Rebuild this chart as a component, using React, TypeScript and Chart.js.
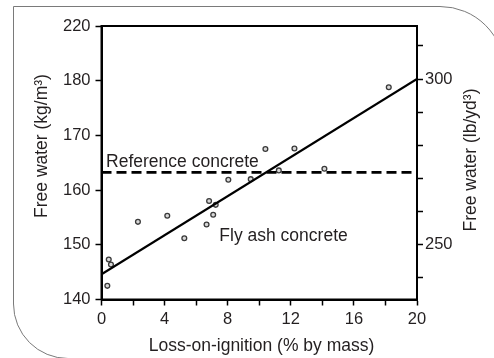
import React, { useEffect, useRef } from 'react';
import { Chart, registerables } from 'chart.js';

Chart.register(...registerables);

// Data
const lossOnIgnition = [0.37, 0.46, 0.6, 2.31, 4.17, 5.25, 6.66, 6.82, 7.08, 7.24, 8.04, 9.46, 10.39, 11.24, 12.23, 14.13, 18.21];
const freeWater = [142.5, 147.3, 146.4, 154.2, 155.3, 151.2, 153.7, 158.0, 155.5, 157.3, 161.9, 162.0, 167.5, 163.6, 167.6, 163.9, 178.8];
const fitX = [0, 20];
const fitY = [144.6, 180.3];
const referenceX = [0, 20];
const referenceY = [163.25, 163.25];

const xTicks = [0, 2, 4, 6, 8, 10, 12, 14, 16, 18, 20];
const xTickLabels = ['0', '', '4', '', '8', '', '12', '', '16', '', '20'];
const leftTicks = [140, 150, 160, 170, 180, 190];
const leftTickLabels = ['140', '150', '160', '170', '180', '220'];
const rightTicks = [240, 250, 260, 270, 280, 290, 300, 310];
const rightTickLabels = ['', '250', '', '', '', '', '300', ''];
const rightMin = 233.5;
const rightMax = 316.0;

const FONT = '"Liberation Sans", Arial, sans-serif';
const TEXT = '#231f20';

const overlayPlugin = {
  id: 'overlay',
  afterDraw(chart: any) {
    const { ctx, chartArea, scales } = chart;
    ctx.save();
    // plot frame
    ctx.strokeStyle = '#000';
    ctx.lineWidth = 2;
    ctx.strokeRect(chartArea.left, chartArea.top, chartArea.right - chartArea.left, chartArea.bottom - chartArea.top);

    ctx.fillStyle = TEXT;
    ctx.font = `17.5px ${FONT}`;
    ctx.textBaseline = 'middle';
    ctx.textAlign = 'center';
    // left title
    ctx.save();
    ctx.translate(42, 146);
    ctx.rotate(-Math.PI / 2);
    ctx.fillText('Free water (kg/m³)', 0, 0);
    ctx.restore();
    // right title
    ctx.save();
    ctx.translate(471.5, 160);
    ctx.rotate(-Math.PI / 2);
    ctx.fillText('Free water (lb/yd³)', 0, 0);
    ctx.restore();
    // bottom title
    ctx.fillText('Loss-on-ignition (% by mass)', 261.5, 346);

    // in-plot labels
    ctx.textAlign = 'left';
    ctx.textBaseline = 'alphabetic';
    const x = scales.x;
    const y = scales.y;
    ctx.fillText('Reference concrete', x.getPixelForValue(0.29), y.getPixelForValue(164.2));
    ctx.fillText('Fly ash concrete', x.getPixelForValue(7.47), y.getPixelForValue(150.7));
    ctx.restore();
  },
};

export default function App() {
  const ref = useRef<HTMLCanvasElement | null>(null);

  useEffect(() => {
    if (!ref.current) return;
    const tickFont = { family: FONT, size: 16.5 };
    const chart = new Chart(ref.current, {
      type: 'scatter',
      data: {
        datasets: [
          {
            label: 'Reference concrete',
            data: referenceX.map((v, i) => ({ x: v, y: referenceY[i] })),
            showLine: true,
            borderColor: '#000',
            borderWidth: 2.8,
            borderDash: [10, 5],
            pointRadius: 0,
            yAxisID: 'y',
          },
          {
            label: 'Fit',
            data: fitX.map((v, i) => ({ x: v, y: fitY[i] })),
            showLine: true,
            borderColor: '#000',
            borderWidth: 2.2,
            pointRadius: 0,
            yAxisID: 'y',
          },
          {
            label: 'Fly ash concrete',
            data: lossOnIgnition.map((v, i) => ({ x: v, y: freeWater[i] })),
            pointRadius: 2.4,
            borderWidth: 1.3,
            borderColor: '#3a3a3a',
            backgroundColor: '#d8d8d8',
            yAxisID: 'y',
          },
        ],
      },
      options: {
        animation: false,
        responsive: false,
        maintainAspectRatio: false,
        layout: { padding: { top: 26, left: 0, right: 0, bottom: 0 } },
        plugins: { legend: { display: false }, tooltip: { enabled: false } },
        scales: {
          x: {
            type: 'linear',
            position: 'bottom',
            min: 0,
            max: 20,
            afterBuildTicks: (s: any) => { s.ticks = xTicks.map((v) => ({ value: v })); },
            afterFit: (s: any) => { s.height = 58.5; },
            ticks: {
              autoSkip: false,
              maxRotation: 0,
              padding: 4,
              color: TEXT,
              font: tickFont,
              callback: (v: any) => xTickLabels[xTicks.indexOf(Number(v))] ?? '',
            },
            grid: { drawOnChartArea: false, drawTicks: true, tickLength: 6, tickColor: '#000', tickWidth: 1.5 },
            border: { display: true, color: '#000', width: 2 },
          },
          y: {
            type: 'linear',
            position: 'left',
            min: 140,
            max: 190,
            afterBuildTicks: (s: any) => { s.ticks = leftTicks.map((v) => ({ value: v })); },
            afterFit: (s: any) => { s.width = 101.5; },
            ticks: {
              autoSkip: false,
              padding: 5,
              color: TEXT,
              font: tickFont,
              callback: (v: any) => leftTickLabels[leftTicks.indexOf(Number(v))] ?? '',
            },
            grid: { drawOnChartArea: false, drawTicks: true, tickLength: 6, tickColor: '#000', tickWidth: 1.5 },
            border: { display: true, color: '#000', width: 2 },
          },
          yRight: {
            type: 'linear',
            position: 'right',
            min: rightMin,
            max: rightMax,
            afterBuildTicks: (s: any) => { s.ticks = rightTicks.map((v) => ({ value: v })); },
            afterFit: (s: any) => { s.width = 77; },
            ticks: {
              autoSkip: false,
              padding: 2,
              color: TEXT,
              font: tickFont,
              callback: (v: any) => rightTickLabels[rightTicks.indexOf(Number(v))] ?? '',
            },
            grid: { drawOnChartArea: false, drawTicks: true, tickLength: 6, tickColor: '#000', tickWidth: 1.5 },
            border: { display: true, color: '#000', width: 2 },
          },
        },
      },
      plugins: [overlayPlugin],
    });
    return () => chart.destroy();
  }, []);

  return (
    <div style={{ position: 'fixed', left: 0, top: 0, width: 494, height: 358, overflow: 'hidden', background: '#fff' }}>
      <div
        style={{
          position: 'absolute',
          left: 13,
          top: 6,
          width: 492,
          height: 353,
          boxSizing: 'border-box',
          border: '1px solid #7a7a7a',
          borderRadius: '0 65px 0 55px',
        }}
      />
      <canvas ref={ref} width={494} height={358} style={{ position: 'absolute', left: 0, top: 0, width: 494, height: 358 }} />
    </div>
  );
}
